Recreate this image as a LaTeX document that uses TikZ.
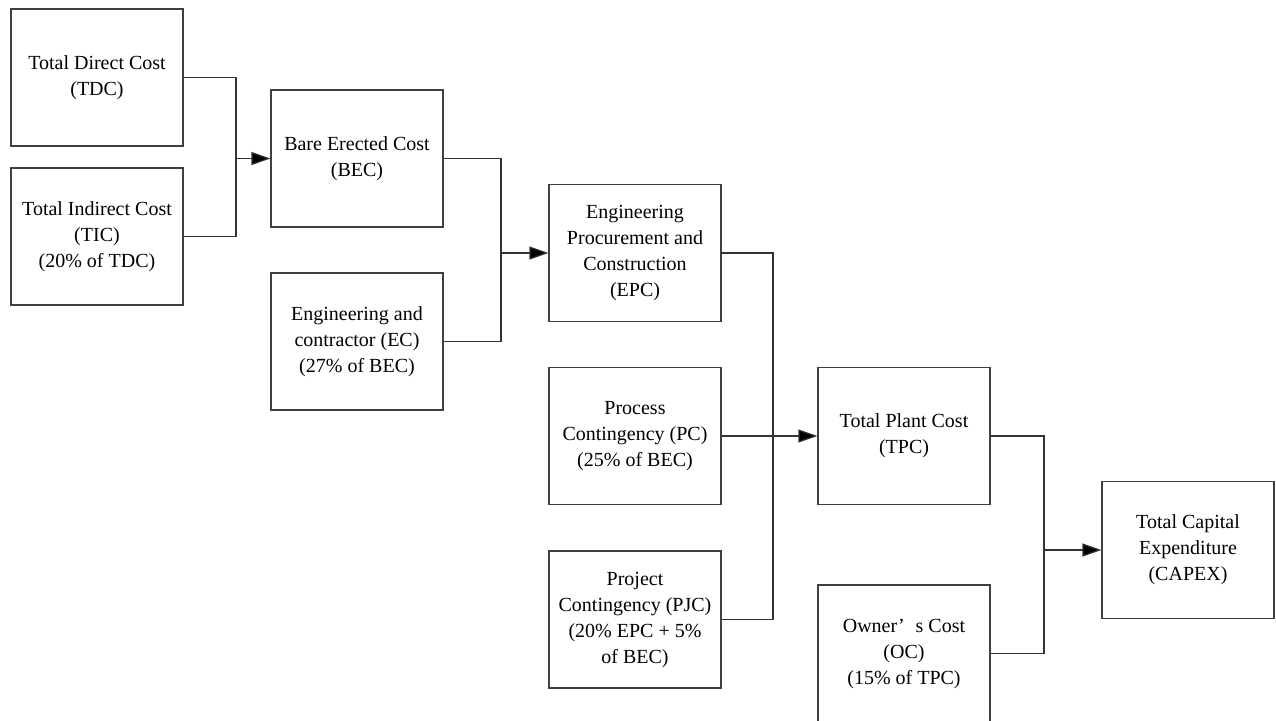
\documentclass[tikz,border=0pt]{standalone}
\usepackage{fontspec}
\setmainfont{Liberation Serif}
\usepackage{tikz}
\usetikzlibrary{positioning, arrows.meta}

\begin{document}
\begin{tikzpicture}[
    x=0.5pt, y=-0.5pt,
    costbox/.style={draw=black!75, line width=0.6pt, minimum width=86pt, minimum height=68.5pt,
        inner sep=0pt, align=center, font=\fontsize{10pt}{13pt}\selectfont},
    link/.style={draw=black!80, line width=0.6pt},
    >={Triangle[length=9.5pt, width=6.5pt, fill=black]}
]
    \useasboundingbox (0,0) rectangle (1276,720);

    % First column
    \node[costbox] (tdc) at (97, 77.5) {Total Direct Cost\\(TDC)};
    \node[costbox] (tic) at (97, 236.5) {Total Indirect Cost\\(TIC)\\(20\% of TDC)};

    % Second column
    \node[costbox] (bec) at (357, 158.5) {Bare Erected Cost\\(BEC)};
    \node[costbox] (ec) at (357, 341.5) {Engineering and\\contractor (EC)\\(27\% of BEC)};

    % Third column
    \node[costbox] (epc) at (635, 253) {Engineering\\Procurement and\\Construction\\(EPC)};
    \node[costbox] (pc) at (635, 436) {Process\\Contingency (PC)\\(25\% of BEC)};
    \node[costbox] (pjc) at (635, 619.5) {Project\\Contingency (PJC)\\(20\% EPC + 5\%\\of BEC)};

    % Fourth column
    \node[costbox] (tpc) at (904, 436) {Total Plant Cost\\(TPC)};
    \node[costbox] (oc) at (904, 653.5) {Owner’\hspace{0.55em}s Cost\\(OC)\\(15\% of TPC)};

    % Result
    \node[costbox] (capex) at (1188, 550) {Total Capital\\Expenditure\\(CAPEX)};

    % Junctions
    \coordinate (j1) at (236, 158.5);
    \coordinate (j2) at (501, 253);
    \coordinate (j3) at (773, 436);
    \coordinate (j4) at (1044, 550);

    % Connectors
    \draw[link] (tdc.east) -| (j1) |- (tic.east);
    \draw[link, ->] (j1) -- (bec.west);
    \draw[link] (bec.east) -| (j2) |- (ec.east);
    \draw[link, ->] (j2) -- (epc.west);
    \draw[link] (epc.east) -| (j3) |- (pjc.east);
    \draw[link, ->] (pc.east) -- (tpc.west);
    \draw[link] (tpc.east) -| (j4) |- (oc.east);
    \draw[link, ->] (j4) -- (capex.west);
\end{tikzpicture}
\end{document}
